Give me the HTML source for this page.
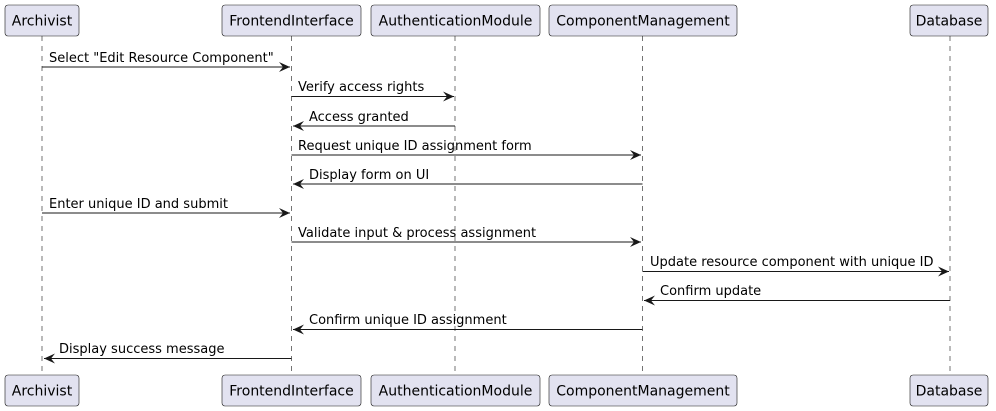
<!DOCTYPE html>
<html><head><style>body{margin:0;background:#fff}svg{display:block}text{font-family:"DejaVu Sans","Liberation Sans",sans-serif;font-size:13px;fill:#000}.p{font-size:14px}</style></head><body>
<svg width="996" height="411" viewBox="0 0 996 411">
<defs><marker id="a" markerWidth="12" markerHeight="10" refX="11" refY="5" orient="auto" markerUnits="userSpaceOnUse"><path d="M0,0 L11,5 L0,10 L4,5 Z" fill="#181818"/></marker></defs>
<g stroke="#181818" stroke-width="0.6" stroke-dasharray="5,5">
<line x1="42" y1="36" x2="42" y2="375"/><line x1="291.5" y1="36" x2="291.5" y2="375"/><line x1="455" y1="36" x2="455" y2="375"/><line x1="642.5" y1="36" x2="642.5" y2="375"/><line x1="950" y1="36" x2="950" y2="375"/>
</g>
<g fill="#E2E2F0" stroke="#181818" stroke-width="0.6">
<rect x="5" y="5" width="74" height="31" rx="3"/><rect x="222" y="5" width="139" height="31" rx="3"/><rect x="371" y="5" width="169" height="31" rx="3"/><rect x="549" y="5" width="188" height="31" rx="3"/><rect x="910" y="5" width="78" height="31" rx="3"/>
<rect x="5" y="375" width="74" height="31" rx="3"/><rect x="222" y="375" width="139" height="31" rx="3"/><rect x="371" y="375" width="169" height="31" rx="3"/><rect x="549" y="375" width="188" height="31" rx="3"/><rect x="910" y="375" width="78" height="31" rx="3"/>
</g>
<g text-anchor="middle" class="p">
<text class="p" x="42" y="25.5">Archivist</text><text class="p" x="291.5" y="25.5">FrontendInterface</text><text class="p" x="455.5" y="25.5">AuthenticationModule</text><text class="p" x="643" y="25.5">ComponentManagement</text><text class="p" x="949" y="25.5">Database</text>
<text class="p" x="42" y="395.5">Archivist</text><text class="p" x="291.5" y="395.5">FrontendInterface</text><text class="p" x="455.5" y="395.5">AuthenticationModule</text><text class="p" x="643" y="395.5">ComponentManagement</text><text class="p" x="949" y="395.5">Database</text>
</g>
<g stroke="#181818" stroke-width="1" marker-end="url(#a)">
<line x1="42" y1="67" x2="290" y2="67"/>
<line x1="291.5" y1="96.5" x2="454" y2="96.5"/>
<line x1="455" y1="126" x2="293" y2="126"/>
<line x1="291.5" y1="155" x2="641" y2="155"/>
<line x1="642.5" y1="184" x2="293" y2="184"/>
<line x1="42" y1="213" x2="290" y2="213"/>
<line x1="291.5" y1="242" x2="641" y2="242"/>
<line x1="642.5" y1="271.5" x2="949" y2="271.5"/>
<line x1="950" y1="300.5" x2="644" y2="300.5"/>
<line x1="642.5" y1="329.5" x2="293" y2="329.5"/>
<line x1="291.5" y1="358.5" x2="44" y2="358.5"/>
</g>
<text x="49" y="62">Select "Edit Resource Component"</text>
<text x="298" y="91">Verify access rights</text>
<text x="309" y="121">Access granted</text>
<text x="298" y="150">Request unique ID assignment form</text>
<text x="309" y="179">Display form on UI</text>
<text x="49" y="208">Enter unique ID and submit</text>
<text x="298" y="237">Validate input &amp; process assignment</text>
<text x="650" y="266">Update resource component with unique ID</text>
<text x="660" y="295">Confirm update</text>
<text x="309" y="324">Confirm unique ID assignment</text>
<text x="59" y="353">Display success message</text>
</svg>
</body></html>
